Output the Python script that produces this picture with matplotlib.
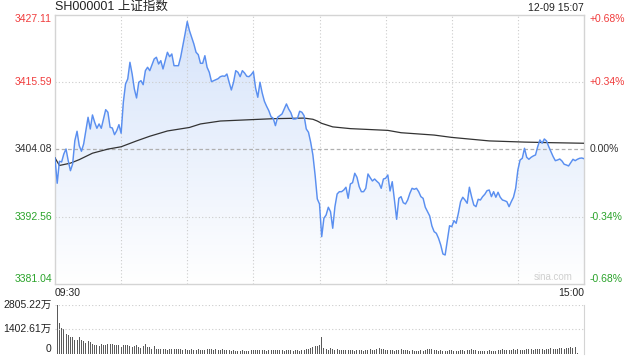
import matplotlib
matplotlib.use("Agg")
import matplotlib.pyplot as plt
from matplotlib.colors import LinearSegmentedColormap
import numpy as np

plt.rcParams['font.family'] = ['Liberation Sans', 'Noto Sans CJK SC', 'DejaVu Sans']

title = "SH000001 上证指数"
stamp = "12-09 15:07"
prev_close = 3404.08
price_ticks = [3381.04, 3392.56, 3404.08, 3415.59, 3427.11]
pct_ticks = ["-0.68%", "-0.34%", "0.00%", "+0.34%", "+0.68%"]
vol_ticks = [0, 1402.61, 2805.22]
vol_labels = ["0", "1402.61万", "2805.22万"]

# one price per minute, 09:30 .. 11:30 | 13:00 .. 15:00
price = [
    3402.58, 3398.26, 3402.02, 3401.90, 3403.27, 3404.12, 3402.12, 3400.41, 3401.56, 3405.54,
    3407.15, 3404.69, 3403.73, 3404.98, 3407.25, 3409.54, 3407.54, 3409.94, 3408.69, 3407.66,
    3408.40, 3407.66, 3409.25, 3410.84, 3410.40, 3407.83, 3407.71, 3406.57, 3407.25, 3408.28,
    3406.81, 3412.11, 3415.23, 3416.09, 3418.94, 3416.94, 3414.38, 3412.84, 3415.53, 3415.80,
    3415.11, 3417.51, 3418.09, 3417.51, 3418.53, 3419.51, 3419.80, 3418.65, 3419.22, 3417.80,
    3419.22, 3420.65, 3419.90, 3420.36, 3418.36, 3418.36, 3418.36, 3419.80, 3421.78, 3423.78,
    3425.90, 3424.35, 3423.22, 3422.07, 3420.65, 3420.24, 3418.77, 3418.77, 3420.07, 3418.09,
    3417.23, 3415.63, 3415.80, 3415.97, 3416.14, 3416.48, 3416.60, 3416.55, 3416.94, 3415.53,
    3414.21, 3415.53, 3417.51, 3417.23, 3416.48, 3417.51, 3417.11, 3416.55, 3416.48, 3416.82,
    3417.34, 3414.55, 3412.96, 3415.53, 3413.70, 3412.28, 3411.42, 3410.67, 3409.64, 3409.37,
    3408.11, 3409.54, 3409.82, 3410.11, 3410.96, 3411.82, 3410.96, 3410.33, 3409.25, 3409.25,
    3409.37, 3410.57, 3410.40, 3409.82, 3407.54, 3406.98, 3405.27, 3403.10, 3399.68, 3395.58,
    3394.72, 3389.13, 3392.28, 3392.84, 3394.16, 3393.40, 3390.57, 3394.26, 3396.43, 3396.82,
    3396.82, 3397.10, 3397.58, 3395.69, 3398.14, 3398.36, 3399.97, 3399.28, 3397.68, 3396.82,
    3396.82, 3397.40, 3399.85, 3399.22, 3398.65, 3398.99, 3398.60, 3398.26, 3397.40, 3398.99,
    3399.11, 3399.68, 3396.94, 3398.53, 3395.40, 3392.10, 3395.69, 3395.97, 3394.94, 3394.72,
    3395.40, 3396.55, 3397.40, 3397.23, 3397.40, 3396.82, 3395.97, 3395.69, 3394.16, 3393.40,
    3392.67, 3390.96, 3389.99, 3389.71, 3388.86, 3387.71, 3386.17, 3386.00, 3388.50, 3391.00,
    3390.84, 3391.87, 3391.42, 3393.13, 3395.11, 3395.87, 3395.40, 3394.84, 3397.58, 3395.97,
    3394.55, 3394.26, 3395.52, 3395.40, 3395.97, 3396.38, 3396.99, 3397.11, 3395.97, 3396.82,
    3395.87, 3396.72, 3395.87, 3395.40, 3395.28, 3395.11, 3394.26, 3395.11, 3395.87, 3397.40,
    3400.53, 3402.24, 3402.53, 3404.24, 3402.70, 3402.36, 3402.70, 3402.93, 3403.10, 3404.52,
    3405.66, 3405.10, 3405.83, 3405.49, 3404.52, 3403.66, 3402.81, 3402.12, 3402.24, 3402.41,
    3402.07, 3401.51, 3401.39, 3401.22, 3401.78, 3402.36, 3402.12, 3402.36, 3402.53, 3402.58,
    3402.46,
]

# average price line
avg_min = [0, 2, 7, 11, 17, 24, 30, 37, 43, 51, 61, 66, 75, 87, 99, 113, 117, 119, 121,
           126, 134, 151, 157, 172, 180, 197, 213, 225, 240]
avg_val = [3402.6, 3401.3, 3401.7, 3402.3, 3403.4, 3404.1, 3404.5, 3405.5, 3406.3, 3407.2,
           3407.8, 3408.4, 3408.9, 3409.1, 3409.3, 3409.4, 3409.2, 3408.9, 3408.5, 3407.9,
           3407.6, 3407.3, 3406.9, 3406.5, 3406.1, 3405.5, 3405.3, 3405.2, 3405.1]

# volume per minute (万)
volume = [
    1365, 2805, 1777, 1459, 1421, 1160, 1085, 954, 954, 785,
    785, 954, 785, 711, 636, 730, 673, 561, 524, 524,
    468, 561, 524, 524, 561, 580, 561, 524, 524, 486,
    411, 486, 505, 486, 468, 374, 449, 505, 374, 337,
    468, 542, 393, 374, 299, 449, 300, 280, 300, 262,
    280, 243, 262, 280, 262, 280, 300, 262, 243, 262,
    243, 224, 262, 243, 224, 262, 243, 224, 243, 262,
    280, 262, 243, 262, 224, 243, 262, 243, 224, 205,
    187, 205, 187, 168, 187, 205, 187, 168, 187, 205,
    243, 224, 205, 243, 224, 205, 187, 205, 224, 243,
    224, 205, 224, 205, 187, 205, 224, 205, 187, 224,
    205, 187, 224, 205, 262, 300, 337, 393, 430, 466,
    520, 990, 337, 280, 243, 318, 280, 243, 262, 224,
    205, 224, 243, 205, 224, 205, 187, 205, 224, 205,
    187, 205, 224, 262, 243, 205, 262, 318, 300, 262,
    224, 205, 224, 205, 187, 224, 243, 262, 243, 224,
    205, 187, 205, 187, 168, 187, 205, 187, 224, 262,
    300, 280, 243, 224, 187, 205, 187, 168, 187, 205,
    224, 187, 168, 187, 205, 224, 187, 205, 243, 262,
    224, 205, 187, 168, 187, 168, 187, 205, 187, 168,
    187, 205, 224, 262, 243, 224, 205, 224, 262, 243,
    262, 243, 224, 243, 262, 280, 262, 243, 262, 280,
    300, 262, 243, 262, 300, 318, 280, 262, 300, 318,
    337, 300, 318, 337, 374, 337, 393, 30, 0, 0,
    617,
]

minutes = np.arange(len(price))
ymin, ymax = price_ticks[0], price_ticks[-1]

fig = plt.figure(figsize=(6.4, 3.6), dpi=100)
ax = fig.add_axes([55 / 640, 1 - 284 / 360, 529 / 640, 269.5 / 360])
axv = fig.add_axes([55 / 640, 1 - 354 / 360, 529 / 640, 49.5 / 360])

grid_c = "#cccccc"
for s in ax.spines.values():
    s.set_color("#d4d4d4")
    s.set_linewidth(1)

# gradient fill under the price line
cmap = LinearSegmentedColormap.from_list("fill", ["#ffffff", "#d5e3fa"])
grad = np.linspace(0, 1, 256).reshape(-1, 1)
im = ax.imshow(grad, cmap=cmap, aspect="auto", origin="lower",
               extent=[0, 240, ymin, ymax], zorder=1)
poly = ax.fill_between(minutes, price, ymin, color="none", lw=0)
im.set_clip_path(poly.get_paths()[0], transform=ax.transData)

for m in range(30, 240, 30):
    ax.axvline(m, color=grid_c, lw=0.8, ls=(0, (1, 2)), zorder=2)
for v in [price_ticks[1], price_ticks[3]]:
    ax.axhline(v, color=grid_c, lw=0.8, ls=(0, (1, 2)), zorder=2)
ax.axhline(prev_close, color="#b0b0b0", lw=0.9, ls=(0, (3, 2)), zorder=2)

ax.plot(minutes, price, color="#5a8ff0", lw=1.05, zorder=4)
ax.plot(avg_min, avg_val, color="#333333", lw=0.9, zorder=3)

ax.set_xlim(0, 240)
ax.set_ylim(ymin, ymax)
ax.set_xticks([])
ax.set_yticks([])

colors = ["#2aa32a", "#2aa32a", "#333333", "#f03c3c", "#f03c3c"]
vas = ["bottom", "center", "center", "center", "top"]
for v, pct, c, va in zip(price_ticks, pct_ticks, colors, vas):
    ax.text(-0.006, v, f"{v:.2f}", transform=ax.get_yaxis_transform(),
            ha="right", va=va, fontsize=7.5, color=c)
    ax.text(1.011, v, pct, transform=ax.get_yaxis_transform(),
            ha="left", va=va, fontsize=7.5, color=c)

fig.text(55 / 640, 1 - 7 / 360, title, ha="left", va="center", fontsize=9, color="#222222")
fig.text(584 / 640, 1 - 8 / 360, stamp, ha="right", va="center", fontsize=7.5, color="#222222")
fig.text(55 / 640, 1 - 293 / 360, "09:30", ha="left", va="center", fontsize=7.5, color="#222222")
fig.text(584 / 640, 1 - 293 / 360, "15:00", ha="right", va="center", fontsize=7.5, color="#222222")
ax.text(0.979, 0.008, "sina.com", transform=ax.transAxes, ha="right", va="bottom",
        fontsize=7, color="#cfcfcf")

# volume panel
axv.bar(minutes, volume, width=0.45, color="#5a5a5a", align="center")
axv.set_xlim(0, 240)
axv.set_ylim(0, vol_ticks[-1])
for v in vol_ticks[1:]:
    axv.axhline(v, color=grid_c, lw=0.8, ls=(0, (1, 2)))
for side in ["top", "left", "bottom"]:
    axv.spines[side].set_visible(False)
axv.spines["right"].set_color("#d4d4d4")
axv.set_xticks([])
axv.set_yticks([])
for v, lab in zip(vol_ticks, vol_labels):
    va = "bottom" if v == 0 else "center"
    axv.text(-0.006, v, lab, transform=axv.get_yaxis_transform(), ha="right", va=va,
             fontsize=7.5, color="#222222")

plt.savefig("out.png", dpi=100)
